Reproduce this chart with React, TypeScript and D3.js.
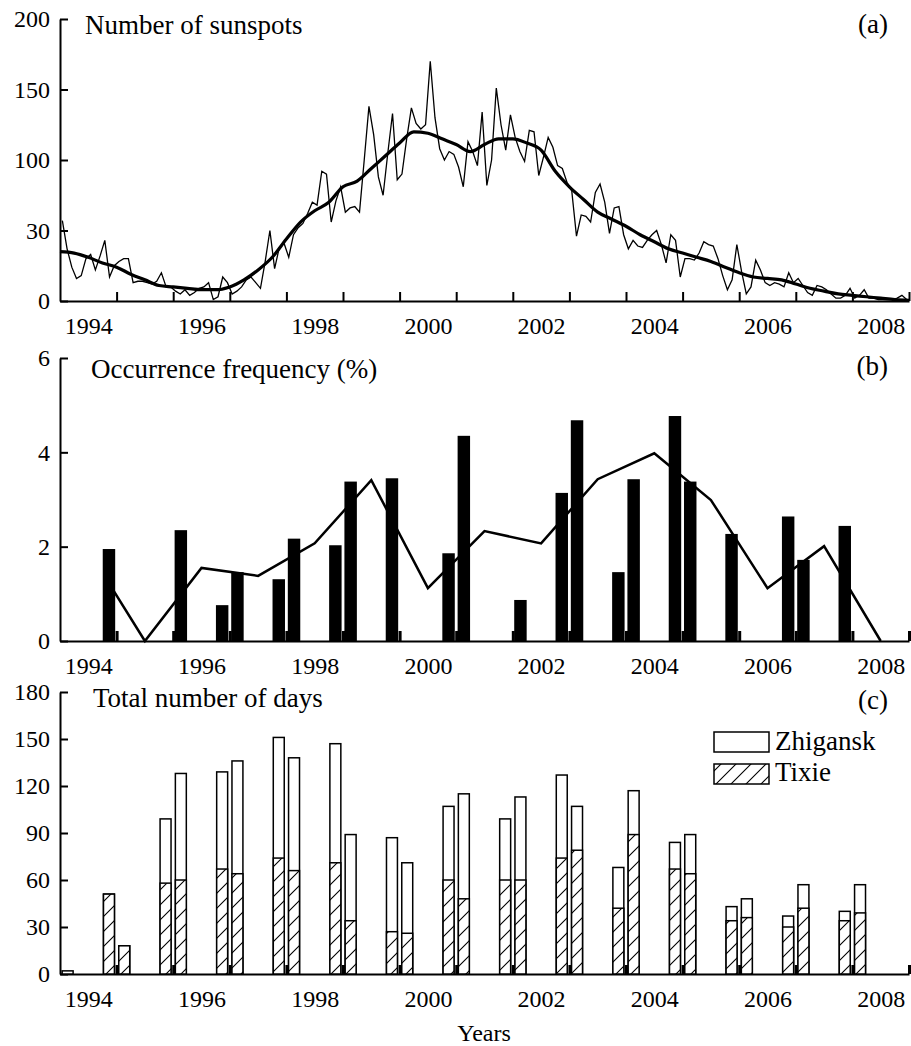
import React, { useEffect, useRef } from "react";
import * as d3 from "d3";

// year boundaries 1994..2008 (each season pair sits around one of them)
const boundaryYears = d3.range(1994, 2009);
const labelYears = [1994, 1996, 1998, 2000, 2002, 2004, 2006, 2008];

// (a) monthly sunspot numbers, Jan 1994 .. Dec 2008
const sunspotMonthly = [
  57, 37, 24, 16, 18, 30, 33, 22, 32, 43, 17, 25,
  28, 30, 30, 13, 14, 14, 13, 12, 14, 20, 10, 10,
  7, 5, 8, 4, 6, 9, 10, 13, 1, 3, 17, 13,
  5, 7, 10, 15, 17, 13, 9, 28, 50, 23, 38, 41,
  31, 47, 52, 55, 62, 70, 68, 92, 90, 56, 71, 81,
  63, 66, 67, 63, 100, 138, 118, 88, 75, 105, 133, 86,
  90, 115, 137, 126, 122, 125, 170, 130, 108, 100, 106, 104,
  95, 81, 113, 106, 96, 134, 82, 100, 151, 125, 107, 132,
  116, 106, 99, 121, 120, 89, 102, 116, 109, 96, 94, 84,
  78, 46, 61, 60, 56, 77, 83, 70, 48, 66, 67, 47,
  37, 43, 39, 38, 43, 47, 50, 40, 27, 47, 43, 17,
  30, 30, 29, 34, 42, 40, 39, 30, 18, 8, 15, 40,
  21, 5, 10, 29, 22, 13, 11, 13, 12, 10, 20, 13,
  16, 11, 6, 4, 11, 10, 8, 5, 2, 2, 4, 9,
  2, 4, 8, 2, 2, 1, 1, 1, 1, 2, 4, 1,
];
// (a) smoothed sunspot number, quarterly from 1994.0 to 2009.0
const sunspotSmoothed = [
  35, 34, 31, 27, 24, 19, 15, 11, 10, 9, 8, 8, 10, 15, 22, 31, 44, 56, 64, 70,
  81, 85, 94, 103, 112, 120, 119, 115, 111, 106, 111, 115, 115, 112, 107, 92,
  81, 72, 63, 58, 53, 47, 42, 37, 34, 31, 28, 24, 20, 17, 16, 15, 12, 9, 7, 5,
  4, 3, 2, 1, 0.5,
];
const yTicksA = [0, 50, 100, 150, 200];
const yLabelsA = ["0", "30", "100", "150", "200"];

// (b) occurrence frequency (%), bar before / after each boundary
const freqLeft = [0, 1.95, 0, 0.76, 1.31, 2.03, 3.45, 1.86, 0, 3.14, 1.46, 4.77, 2.27, 2.64, 2.44];
const freqRight = [0, 0, 2.35, 1.46, 2.17, 3.38, 0, 4.35, 0.87, 4.68, 3.43, 3.38, 0, 1.72, 0];
const freqLineYears = [1994.8, 1995.5, 1996.5, 1997.5, 1998.5, 1999.5, 2000.5, 2001.5, 2002.5, 2003.5, 2004.5, 2005.5, 2006.5, 2007.5, 2008.5];
const freqLineValues = [1.35, 0, 1.55, 1.38, 2.07, 3.41, 1.12, 2.33, 2.07, 3.43, 3.98, 2.99, 1.12, 2.01, 0];
const yTicksB = [0, 2, 4, 6];

// (c) total number of days
const zhiganskLeft = [0, 51, 99, 129, 151, 147, 87, 107, 99, 127, 68, 84, 43, 37, 40];
const tixieLeft = [0, 51, 58, 67, 74, 71, 27, 60, 60, 74, 42, 67, 34, 30, 34];
const zhiganskRight = [2, 18, 128, 136, 138, 89, 71, 115, 113, 107, 117, 89, 48, 57, 57];
const tixieRight = [0, 18, 60, 64, 66, 34, 26, 48, 60, 79, 89, 64, 36, 42, 39];
const yTicksC = [0, 30, 60, 90, 120, 150, 180];

const FONT = "'Liberation Serif', 'Times New Roman', serif";

const drawChart = (svgEl: SVGSVGElement) => {
  const svg = d3.select(svgEl);
  svg.selectAll("*").remove();

  const x = d3.scaleLinear().domain([1994, 2009]).range([60, 909]);
  const barW = 0.22;
  const gap = 0.025;

  const defs = svg.append("defs");
  const pat = defs
    .append("pattern")
    .attr("id", "hatch")
    .attr("patternUnits", "userSpaceOnUse")
    .attr("width", 15)
    .attr("height", 15);
  pat.append("rect").attr("width", 15).attr("height", 15).attr("fill", "#fff");
  pat
    .append("path")
    .attr("d", "M-4,4 L4,-4 M0,15 L15,0 M11,19 L19,11")
    .attr("stroke", "#000")
    .attr("stroke-width", 1.1);

  const axes = (y: d3.ScaleLinear<number, number>, ticks: number[], labels: string[], tickW: number, tickH: number) => {
    const y0 = y(0);
    const ya = svg
      .append("g")
      .attr("transform", `translate(${x(1994)},0)`)
      .call(
        d3
          .axisLeft(y)
          .tickValues(ticks)
          .tickFormat((d, i) => labels[i])
          .tickSizeInner(-8)
          .tickSizeOuter(0)
          .tickPadding(10)
      )
      .attr("font-family", FONT)
      .attr("font-size", 24);
    ya.select(".domain").attr("stroke-width", 2);
    ya.selectAll(".tick line").attr("stroke-width", 2);
    ya.selectAll("text").attr("fill", "#000");

    const xa = svg
      .append("g")
      .attr("transform", `translate(0,${y0})`)
      .call(
        d3
          .axisBottom(x)
          .tickValues(d3.range(1995, 2010))
          .tickSizeInner(-tickH)
          .tickSizeOuter(0)
          .tickFormat(() => "")
      );
    xa.select(".domain").attr("stroke-width", 2);
    xa.selectAll(".tick line").attr("stroke-width", tickW);

    const xl = svg
      .append("g")
      .attr("transform", `translate(0,${y0})`)
      .call(
        d3
          .axisBottom(x)
          .tickValues(labelYears.map((d) => d + 0.5))
          .tickSize(0)
          .tickFormat((d, i) => String(labelYears[i]))
      )
      .attr("font-family", FONT)
      .attr("font-size", 24);
    xl.select(".domain").remove();
    xl.selectAll("text").attr("y", 33).attr("dy", null).attr("fill", "#000");
  };

  const text = (s: string, tx: number, ty: number, size: number, anchor = "start") =>
    svg
      .append("text")
      .attr("x", tx)
      .attr("y", ty)
      .attr("font-family", FONT)
      .attr("font-size", size)
      .attr("text-anchor", anchor)
      .text(s);

  // ---- (a)
  const yA = d3.scaleLinear().domain([0, 200]).range([301, 19]);
  axes(yA, yTicksA, yLabelsA, 2, 9);
  const monthly = sunspotMonthly.map((v, i) => [1994 + (i + 0.5) / 12, v] as [number, number]);
  svg
    .append("path")
    .attr("d", d3.line<[number, number]>().x((d) => x(d[0])).y((d) => yA(d[1]))(monthly))
    .attr("fill", "none")
    .attr("stroke", "#000")
    .attr("stroke-width", 1.3);
  const smooth = sunspotSmoothed.map((v, i) => [1994 + i / 4, v] as [number, number]);
  svg
    .append("path")
    .attr(
      "d",
      d3
        .line<[number, number]>()
        .x((d) => x(d[0]))
        .y((d) => yA(d[1]))
        .curve(d3.curveMonotoneX)(smooth)
    )
    .attr("fill", "none")
    .attr("stroke", "#000")
    .attr("stroke-width", 3.2);
  text("Number of sunspots", 85, 34, 27);
  text("(a)", 888, 33, 27, "end");

  // ---- (b)
  const yB = d3.scaleLinear().domain([0, 6]).range([641, 358]);
  axes(yB, yTicksB, yTicksB.map(String), 3, 10);
  const barsB = boundaryYears.flatMap((b, i) => [
    { x0: b - gap - barW, v: freqLeft[i] },
    { x0: b + gap, v: freqRight[i] },
  ]).filter((d) => d.v > 0);
  svg
    .append("g")
    .selectAll("rect")
    .data(barsB)
    .join("rect")
    .attr("x", (d) => x(d.x0))
    .attr("width", x(1994 + barW) - x(1994))
    .attr("y", (d) => yB(d.v))
    .attr("height", (d) => yB(0) - yB(d.v))
    .attr("fill", "#000");
  const freqLine = freqLineYears.map((t, i) => [t, freqLineValues[i]] as [number, number]);
  svg
    .append("path")
    .attr("d", d3.line<[number, number]>().x((d) => x(d[0])).y((d) => yB(d[1]))(freqLine))
    .attr("fill", "none")
    .attr("stroke", "#000")
    .attr("stroke-width", 2.5);
  text("Occurrence frequency (%)", 91, 378, 27);
  text("(b)", 888, 375, 27, "end");

  // ---- (c)
  const yC = d3.scaleLinear().domain([0, 180]).range([974, 692]);
  axes(yC, yTicksC, yTicksC.map(String), 3, 9);
  const barsC = boundaryYears.flatMap((b, i) => [
    { x0: b - gap - barW, z: zhiganskLeft[i], t: tixieLeft[i] },
    { x0: b + gap, z: zhiganskRight[i], t: tixieRight[i] },
  ]).filter((d) => d.z > 0 || d.t > 0);
  const cw = x(1994 + barW) - x(1994) - 1.5;
  const gc = svg.append("g");
  gc.selectAll("rect.z")
    .data(barsC.filter((d) => d.z > 0))
    .join("rect")
    .attr("class", "z")
    .attr("x", (d) => x(d.x0) + 0.75)
    .attr("width", cw)
    .attr("y", (d) => yC(d.z))
    .attr("height", (d) => yC(0) - yC(d.z))
    .attr("fill", "#fff")
    .attr("stroke", "#000")
    .attr("stroke-width", 1.5);
  gc.selectAll("rect.t")
    .data(barsC.filter((d) => d.t > 0))
    .join("rect")
    .attr("class", "t")
    .attr("x", (d) => x(d.x0) + 0.75)
    .attr("width", cw)
    .attr("y", (d) => yC(d.t))
    .attr("height", (d) => yC(0) - yC(d.t))
    .attr("fill", "url(#hatch)")
    .attr("stroke", "#000")
    .attr("stroke-width", 1.5);
  text("Total number of days", 93, 707, 27);
  text("(c)", 888, 709, 27, "end");

  // legend
  svg.append("rect").attr("x", 714).attr("y", 732).attr("width", 55).attr("height", 20)
    .attr("fill", "#fff").attr("stroke", "#000").attr("stroke-width", 1.5);
  svg.append("rect").attr("x", 714).attr("y", 764).attr("width", 55).attr("height", 20)
    .attr("fill", "url(#hatch)").attr("stroke", "#000").attr("stroke-width", 1.5);
  text("Zhigansk", 775, 750, 27);
  text("Tixie", 775, 781, 27);

  text("Years", 484, 1041, 24, "middle");
};

export default function App() {
  const ref = useRef<SVGSVGElement>(null);
  useEffect(() => {
    if (ref.current) drawChart(ref.current);
  }, []);
  return (
    <svg
      ref={ref}
      width={911}
      height={1046}
      style={{ position: "absolute", left: 0, top: 0, background: "#fff" }}
    />
  );
}
